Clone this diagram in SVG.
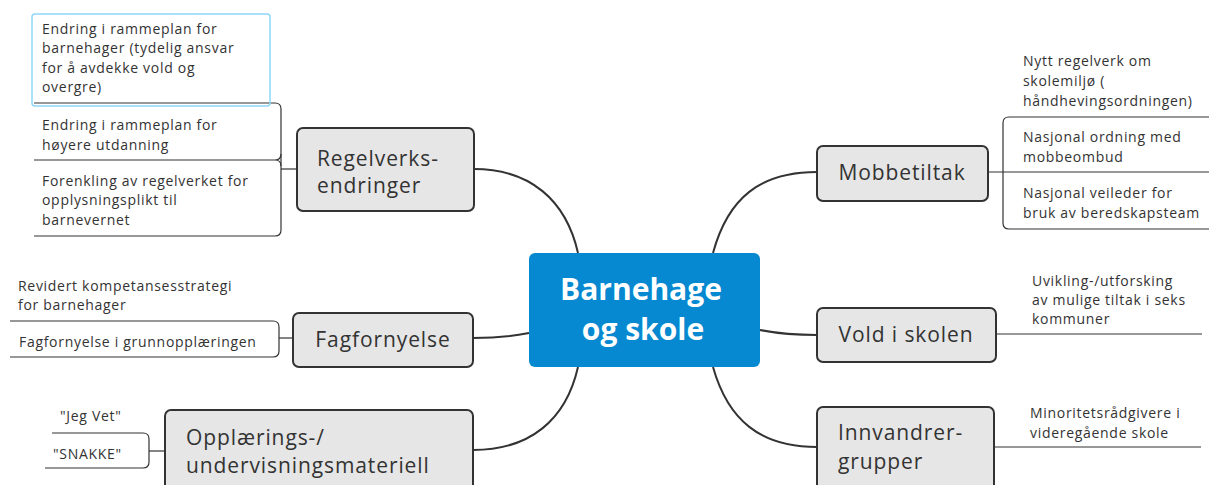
<svg xmlns="http://www.w3.org/2000/svg" width="1209" height="485" viewBox="0 0 1209 485">
  <style>
    .topic rect { fill: #e6e6e6; stroke: #333; stroke-width: 2; }
    .topic text { font-family: "Open Sans", "Noto Sans", sans-serif; font-size: 21px; letter-spacing: 0.9px; fill: #333; }
    .leaf text { font-family: "Open Sans", "Noto Sans", sans-serif; font-size: 14px; letter-spacing: 0.7px; fill: #333; }
    .main { fill: none; stroke: #333; stroke-width: 2; }
    .sub { fill: none; stroke: #333; stroke-width: 1.2; }
  </style>
  <rect width="1209" height="485" fill="#ffffff"/>

  <!-- connectors -->
  <g id="connectors">
    <!-- center to main topics -->
    <path class="main" d="M 578 253 C 566 200, 530 169, 474 169"/>
    <path class="main" d="M 713 253 C 728 198, 760 172, 817 172"/>
    <path class="main" d="M 529 333 C 510 337, 495 338, 473 338"/>
    <path class="main" d="M 760 330 C 780 334, 795 335, 817 335"/>
    <path class="main" d="M 578 367 C 566 420, 530 450, 473 450"/>
    <path class="main" d="M 713 367 C 728 420, 760 447, 817 447"/>

    <!-- Regelverks-endringer leaves -->
    <path class="sub" d="M 297 169 H 281"/>
    <path class="sub" d="M 34 103 H 275 Q 281 103 281 109 V 230 Q 281 236 275 236 H 34"/>
    <path class="sub" d="M 34 160 H 275 Q 281 160 281 154 M 275 160 Q 281 160 281 166"/>

    <!-- Fagfornyelse leaves -->
    <path class="sub" d="M 293 338 H 279"/>
    <path class="sub" d="M 10 321 H 273 Q 279 321 279 327 V 351 Q 279 357 273 357 H 10"/>

    <!-- Opplærings-/undervisningsmateriell leaves -->
    <path class="sub" d="M 165 451 H 149"/>
    <path class="sub" d="M 52 433 H 143 Q 149 433 149 439 V 462 Q 149 468 143 468 H 45"/>

    <!-- Mobbetiltak leaves -->
    <path class="sub" d="M 988 172 H 1209"/>
    <path class="sub" d="M 1209 117 H 1009 Q 1003 117 1003 123 V 223 Q 1003 229 1009 229 H 1209"/>

    <!-- Vold i skolen leaf -->
    <path class="sub" d="M 996 334 H 1202"/>

    <!-- Innvandrergrupper leaf -->
    <path class="sub" d="M 994 447 H 1201"/>
  </g>

  <!-- central topic -->
  <g id="center">
    <rect x="529" y="253" width="231" height="114" rx="6" fill="#0689d0"/>
    <text x="641" y="300" text-anchor="middle" font-family="Open Sans, Noto Sans, sans-serif" font-size="30" font-weight="bold" fill="#ffffff">Barnehage</text>
    <text x="643" y="340" text-anchor="middle" font-family="Open Sans, Noto Sans, sans-serif" font-size="30" font-weight="bold" fill="#ffffff">og skole</text>
  </g>

  <!-- main topics -->
  <g id="regelverk" class="topic">
    <rect x="297" y="128" width="177" height="83" rx="6"/>
    <text x="317" y="166">Regelverks-</text>
    <text x="317" y="193">endringer</text>
  </g>
  <g id="fagfornyelse" class="topic">
    <rect x="293" y="313" width="180" height="54" rx="6"/>
    <text x="383" y="347" text-anchor="middle">Fagfornyelse</text>
  </g>
  <g id="opplaering" class="topic">
    <rect x="165" y="410" width="308" height="90" rx="6"/>
    <text x="186" y="445">Opplærings-/</text>
    <text x="186" y="473">undervisningsmateriell</text>
  </g>
  <g id="mobbetiltak" class="topic">
    <rect x="817" y="146" width="171" height="55" rx="6"/>
    <text x="902" y="180" text-anchor="middle">Mobbetiltak</text>
  </g>
  <g id="vold" class="topic">
    <rect x="817" y="308" width="179" height="54" rx="6"/>
    <text x="906" y="342" text-anchor="middle">Vold i skolen</text>
  </g>
  <g id="innvandrer" class="topic">
    <rect x="817" y="407" width="177" height="90" rx="6"/>
    <text x="838" y="440">Innvandrer-</text>
    <text x="838" y="469">grupper</text>
  </g>

  <!-- leaves -->
  <g id="leaf-rammeplan-barnehager" class="leaf">
    <rect x="32" y="14" width="238" height="92" rx="3" fill="none" stroke="#8fd6f6" stroke-width="1.5"/>
    <text x="42" y="34">Endring i rammeplan for</text>
    <text x="42" y="53">barnehager (tydelig ansvar</text>
    <text x="42" y="73">for å avdekke vold og</text>
    <text x="42" y="92">overgre)</text>
  </g>
  <g id="leaf-rammeplan-hoyere" class="leaf">
    <text x="42" y="130">Endring i rammeplan for</text>
    <text x="42" y="150">høyere utdanning</text>
  </g>
  <g id="leaf-opplysningsplikt" class="leaf">
    <text x="42" y="186">Forenkling av regelverket for</text>
    <text x="42" y="205">opplysningsplikt til</text>
    <text x="42" y="225">barnevernet</text>
  </g>
  <g id="leaf-kompetansestrategi" class="leaf">
    <text x="18" y="291">Revidert kompetansesstrategi</text>
    <text x="18" y="310">for barnehager</text>
  </g>
  <g id="leaf-grunnopplaering" class="leaf">
    <text x="19" y="347">Fagfornyelse i grunnopplæringen</text>
  </g>
  <g id="leaf-jeg-vet" class="leaf">
    <text x="60" y="421">"Jeg Vet"</text>
  </g>
  <g id="leaf-snakke" class="leaf">
    <text x="53" y="459">"SNAKKE"</text>
  </g>
  <g id="leaf-skolemiljo" class="leaf">
    <text x="1023" y="66">Nytt regelverk om</text>
    <text x="1023" y="86">skolemiljø (</text>
    <text x="1023" y="106">håndhevingsordningen)</text>
  </g>
  <g id="leaf-mobbeombud" class="leaf">
    <text x="1023" y="142">Nasjonal ordning med</text>
    <text x="1023" y="162">mobbeombud</text>
  </g>
  <g id="leaf-beredskapsteam" class="leaf">
    <text x="1023" y="198">Nasjonal veileder for</text>
    <text x="1023" y="218">bruk av beredskapsteam</text>
  </g>
  <g id="leaf-seks-kommuner" class="leaf">
    <text x="1032" y="286">Uvikling-/utforsking</text>
    <text x="1032" y="305">av mulige tiltak i seks</text>
    <text x="1032" y="324">kommuner</text>
  </g>
  <g id="leaf-minoritetsradgivere" class="leaf">
    <text x="1030" y="418">Minoritetsrådgivere i</text>
    <text x="1030" y="438">videregående skole</text>
  </g>
</svg>
